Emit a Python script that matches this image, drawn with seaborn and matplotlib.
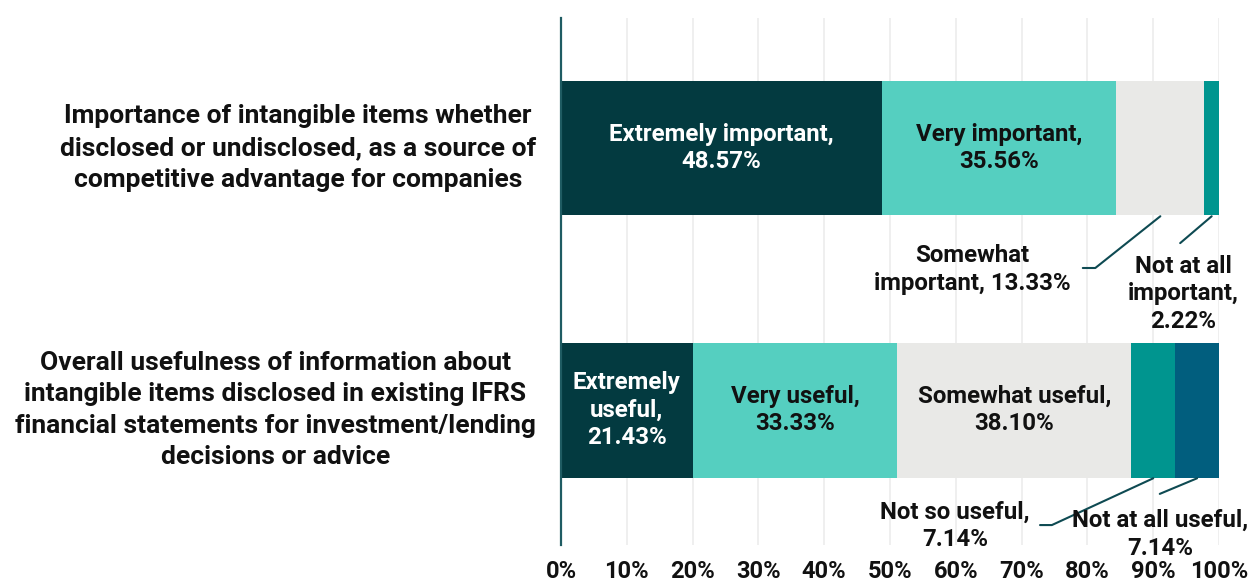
import numpy as np
import pandas as pd
import matplotlib
matplotlib.use("Agg")
import matplotlib.pyplot as plt
import seaborn as sns

# Survey questions (y categories)
questions = [
    "Importance of intangible items whether\ndisclosed or undisclosed, as a source of\ncompetitive advantage for companies",
    "Overall usefulness of information about\nintangible items disclosed in existing IFRS\nfinancial statements for investment/lending\ndecisions or advice",
]

# Answer levels and reported percentages per question
importance_levels = ["Extremely important", "Very important", "Somewhat important", "Not at all important"]
importance_values = [48.57, 35.56, 13.33, 2.22]

usefulness_levels = ["Extremely useful", "Very useful", "Somewhat useful", "Not so useful", "Not at all useful"]
usefulness_values = [21.43, 33.33, 38.10, 7.14, 7.14]

# Segment colours by answer rank
segment_colors = ["#033A40", "#55CFC0", "#E9E9E7", "#00958F", "#015E7E"]
text_dark = "#111111"

sns.set_theme(style="white")
plt.rcParams["font.family"] = ["Roboto", "DejaVu Sans"]
plt.rcParams["font.weight"] = "bold"

# Long table: each response scaled to its share of the full bar
rows = []
for q, levels, vals in [(questions[0], importance_levels, importance_values),
                        (questions[1], usefulness_levels, usefulness_values)]:
    vals = np.asarray(vals, dtype=float)
    share = vals / vals.sum() * 100
    ends = np.cumsum(share)
    starts = ends - share
    for rank, (lvl, v, s, e) in enumerate(zip(levels, vals, starts, ends)):
        rows.append(dict(question=q, level=lvl, value=v, rank=rank, start=s, end=e))
df = pd.DataFrame(rows)

fig = plt.figure(figsize=(12.5, 5.81), dpi=100)
ax = fig.add_axes([0.4488, 0.062, 0.5264, 0.907])

bar_h = 0.515
# Stacked bars: draw cumulative ends from the last segment to the first
for rank in sorted(df["rank"].unique(), reverse=True):
    sub = df[df["rank"] == rank]
    sns.barplot(data=sub, x="end", y="question", order=questions, orient="h",
                color=segment_colors[rank], saturation=1, width=bar_h,
                linewidth=0, ax=ax, zorder=2)

ax.set_xlim(0, 100)
ax.set_ylim(1.515, -0.496)
ax.set_xticks(np.arange(0, 101, 10))
ax.set_xticklabels([f"{t}%" for t in range(0, 101, 10)])
ax.xaxis.grid(True, color="#EEEEEE", linewidth=1.3, zorder=0)
ax.yaxis.grid(False)
ax.set_axisbelow(True)
ax.set_xlabel("")
ax.set_ylabel("")
for s in ["top", "right", "bottom"]:
    ax.spines[s].set_visible(False)
ax.spines["left"].set_color("#1F5C63")
ax.spines["left"].set_linewidth(1.6)
ax.spines["left"].set_zorder(5)
ax.tick_params(axis="x", length=0, pad=11, labelsize=17, labelcolor=text_dark)
ax.tick_params(axis="y", length=0, pad=18, labelsize=19, labelcolor=text_dark)
for lab in ax.get_xticklabels():
    lab.set_fontweight("bold")
for lab in ax.get_yticklabels():
    lab.set_fontweight("bold")
    lab.set_multialignment("center")
    lab.set_verticalalignment("center")
    lab.set_linespacing(1.4)

label_fs = 17.3
label_ls = 1.25
inside = {
    "Extremely important": "Extremely important,\n{v:.2f}%",
    "Very important": "Very important,\n{v:.2f}%",
    "Extremely useful": "Extremely\nuseful,\n{v:.2f}%",
    "Very useful": "Very useful,\n{v:.2f}%",
    "Somewhat useful": "Somewhat useful,\n{v:.2f}%",
}
q_index = {q: i for i, q in enumerate(questions)}
for _, r in df.iterrows():
    y = q_index[r["question"]]
    cx = (r["start"] + r["end"]) / 2
    if r["level"] in inside:
        color = "white" if r["rank"] == 0 else text_dark
        ax.text(cx, y, inside[r["level"]].format(v=r["value"]), ha="center", va="center",
                fontsize=label_fs, fontweight="bold", color=color, linespacing=label_ls, zorder=4)

# Callout labels for the narrow segments: leader-line end, optional elbow, text centre
callouts = {
    "Somewhat important": ("Somewhat\nimportant, {v:.2f}%", (79.3, 0.458), (81.2, 0.458), (62.5, 0.464)),
    "Not at all important": ("Not at all\nimportant,\n{v:.2f}%", (94.1, 0.363), None, (94.6, 0.557)),
    "Not so useful": ("Not so useful,\n{v:.2f}%", (72.8, 1.439), (74.6, 1.439), (59.9, 1.443)),
    "Not at all useful": ("Not at all useful,\n{v:.2f}%", (91.0, 1.32), None, (91.0, 1.475)),
}
line_kw = dict(color="#0E4A52", linewidth=1.5, zorder=3, clip_on=False)
for _, r in df.iterrows():
    if r["level"] not in callouts:
        continue
    fmt, end_pt, elbow, text_pt = callouts[r["level"]]
    y = q_index[r["question"]]
    cx = (r["start"] + r["end"]) / 2
    y_edge = y + bar_h / 2 + 0.003
    xs, ys = [cx], [y_edge]
    if elbow is not None:
        xs.append(elbow[0])
        ys.append(elbow[1])
    xs.append(end_pt[0])
    ys.append(end_pt[1])
    ax.plot(xs, ys, **line_kw)
    ax.text(text_pt[0], text_pt[1], fmt.format(v=r["value"]), ha="center", va="center",
            fontsize=label_fs, fontweight="bold", color=text_dark, linespacing=label_ls,
            zorder=4, clip_on=False)

fig.savefig("out.png", dpi=100, facecolor="white")
